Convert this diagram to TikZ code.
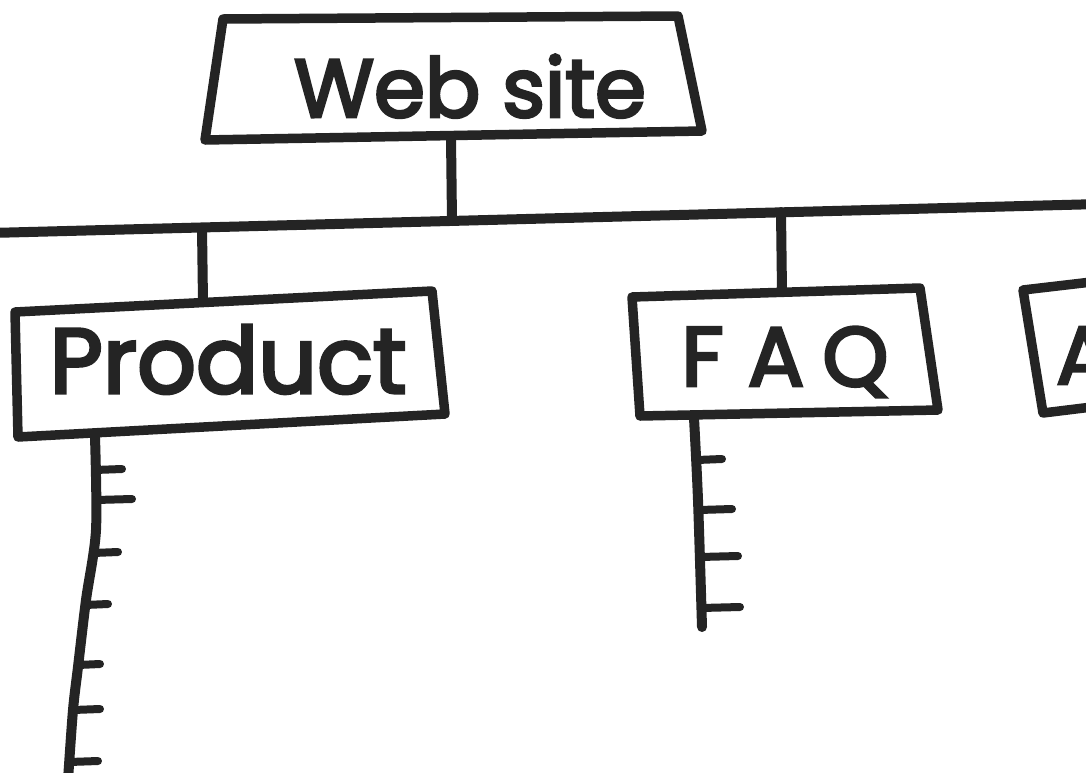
\documentclass[tikz,border=0pt]{standalone}
\usepackage{fontspec}
\setmainfont{Poppins}
\newfontfamily\handfont[FakeBold=3.5]{Poppins}
\definecolor{ink}{HTML}{242424}
\begin{document}
\begin{tikzpicture}[x=1pt,y=-1pt,
  boxline/.style={draw=ink,line width=9.5pt,line cap=round,line join=round},
  wire/.style={draw=ink,line width=10pt,line cap=round,line join=round},
  tick/.style={draw=ink,line width=8pt,line cap=round},
  hand/.style={text=ink,inner sep=0pt,font=\handfont\fontsize{#1}{#1}\selectfont},
  hand/.default=80]
\useasboundingbox (0,0) rectangle (1086,772);
\clip (0,0) rectangle (1086,772);
\fill[white] (0,0) rectangle (1086,772);

% --- top box: Web site
\coordinate (w1) at (223,19);
\coordinate (w2) at (678,16);
\coordinate (w3) at (702,131);
\coordinate (w4) at (205,140);
\draw[boxline] (w1) -- (w2) -- (w3) -- (w4) -- cycle;
\node[hand=82,anchor=base] (web) at (470,117) {Web site};

% --- horizontal bus
\coordinate (busL) at (-10,233);
\coordinate (busR) at (1100,204);
\draw[wire] (busL) -- (busR);
\coordinate (wbot) at (451,138);
\coordinate (j0) at (452,221);
\draw[wire] (wbot) -- (j0);

% --- Product box
\coordinate (p1) at (15,312);
\coordinate (p2) at (432,291);
\coordinate (p3) at (445,414);
\coordinate (p4) at (18,437);
\draw[boxline] (p1) -- (p2) -- (p3) -- (p4) -- cycle;
\node[hand=92,anchor=base] (prod) at (228,393) {Product};
\coordinate (j1) at (202,228);
\coordinate (ptop) at (203,302);
\draw[wire] (j1) -- (ptop);

% --- FAQ box
\coordinate (f1) at (632,297);
\coordinate (f2) at (920,288);
\coordinate (f3) at (938,410);
\coordinate (f4) at (640,416);
\draw[boxline] (f1) -- (f2) -- (f3) -- (f4) -- cycle;
\node[hand=84,anchor=base] (faq) at (785,386) {F\hspace{24pt}A\hspace{18pt}Q};
\coordinate (j2) at (781,212);
\coordinate (ftop) at (782,292);
\draw[wire] (j2) -- (ftop);

% --- third box, cut by the right edge
\coordinate (a1) at (1100,281);
\coordinate (a2) at (1023,290);
\coordinate (a3) at (1043,413);
\coordinate (a4) at (1100,406);
\draw[boxline] (a1) -- (a2) -- (a3) -- (a4);
\node[hand=82,anchor=base west] (about) at (1056,384) {A};

% --- Product sub-page list
\coordinate (pl0) at (95,437);
\coordinate (pl1) at (96,530);
\coordinate (pl2) at (86,600);
\coordinate (pl3) at (78,667);
\coordinate (pl4) at (73,710);
\coordinate (pl5) at (68,780);
\draw[wire] plot[smooth] coordinates {(pl0) (pl1) (pl2) (pl3) (pl4) (pl5)};
\foreach \y/\xa/\xb in {470/95/122, 500/96/132, 553/93/118, 605/85/108, 665/78/100, 710/73/100, 762/69/98}
  \draw[tick] (\xa,\y) -- (\xb,\y-1);

% --- FAQ sub-page list
\coordinate (fl0) at (694,418);
\coordinate (fl1) at (698,500);
\coordinate (fl2) at (702,627);
\draw[wire] plot[smooth] coordinates {(fl0) (fl1) (fl2)};
\foreach \y/\xa/\xb in {460/697/722, 510/699/732, 557/700/738, 608/701/740}
  \draw[tick] (\xa,\y) -- (\xb,\y-1);
\end{tikzpicture}
\end{document}
